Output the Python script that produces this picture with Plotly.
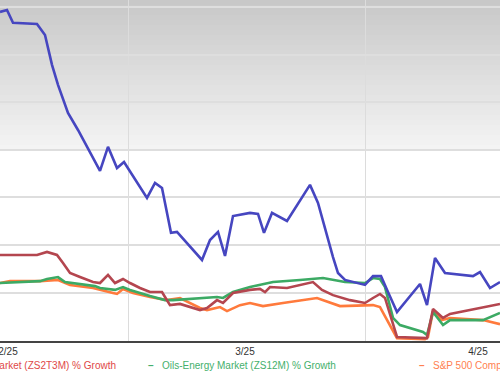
import plotly.graph_objects as go

# x: trading-time position (units), y: % growth
blue_x = [0, 0.7, 1.3, 3.7, 4.5, 5.2, 5.8, 6.8, 7.8, 10.0, 10.8, 11.7, 12.4, 14.7, 15.5, 16.2, 17.1, 17.7,
          20.2, 21.0, 21.8, 22.5, 23.3, 25.0, 25.8, 26.4, 27.2, 28.7, 31.0, 31.8, 33.3, 33.8, 34.5, 36.5,
          37.3, 38.1, 38.8, 39.7, 42.0, 42.7, 43.5, 44.5, 47.3, 48.0, 49.0, 50.0]
blue_y = [98.1, 98.9, 93.5, 93.0, 88.4, 75.8, 67.4, 55.6, 48.4, 31.2, 41.3, 32.4, 34.9, 19.8, 26.1, 24.0, 5.1, 5.5,
          -6.3, 2.1, 5.5, -4.6, 12.2, 13.5, 13.1, 5.1, 13.5, 10.1, 25.3, 17.7, -5.1, -11.8, -14.7, -16.8,
          -13.1, -13.1, -19.8, -28.2, -16.4, -25.3, -5.5, -11.8, -13.1, -11.4, -18.1, -15.6]

red_x = [0, 3.7, 4.7, 5.7, 6.3, 7.0, 8.0, 9.3, 10.0, 10.8, 11.5, 12.3, 13.0, 14.0, 15.0, 16.2, 16.5, 17.0,
         18.0, 19.0, 20.0, 20.7, 21.7, 22.3, 23.3, 25.0, 26.0, 26.5, 27.0, 28.7, 31.3, 32.2, 33.3, 35.0,
         36.5, 37.3, 38.0, 38.5, 39.3, 39.7, 42.7, 43.3, 44.3, 45.0, 50.0]
red_y = [-4.2, -4.2, -2.9, -4.2, -7.6, -11.8, -13.5, -15.6, -16.0, -12.6, -16.0, -14.3, -16.0, -18.1, -19.8,
         -19.8, -21.9, -25.3, -24.8, -26.1, -27.4, -26.5, -23.2, -24.4, -20.2, -18.9, -18.5, -19.8, -17.7,
         -18.1, -15.6, -18.9, -21.1, -23.2, -24.4, -22.3, -20.6, -22.3, -33.7, -38.7, -39.2, -26.9, -30.7,
         -29.0, -24.8]

green_x = [0, 4.0, 4.7, 5.8, 6.5, 8.0, 9.5, 10.0, 11.5, 12.3, 13.0, 15.0, 16.5, 17.3, 19.0, 21.0, 21.7, 22.3,
           23.3, 25.0, 27.3, 30.0, 32.3, 34.5, 36.5, 37.3, 38.0, 38.5, 39.3, 40.0, 42.3, 42.7, 43.3, 44.3,
           45.0, 48.3, 50.0]
green_y = [-16.0, -15.2, -14.3, -13.5, -15.6, -16.4, -17.3, -18.1, -18.9, -17.7, -18.9, -21.5, -23.2, -23.2,
           -22.7, -22.3, -21.9, -22.3, -19.8, -17.7, -15.6, -14.7, -13.9, -15.6, -16.0, -13.9, -14.3, -17.7,
           -30.7, -33.7, -36.6, -37.9, -28.2, -33.7, -31.6, -31.6, -28.6]

orange_x = [0, 1.0, 4.0, 5.8, 7.0, 9.3, 11.3, 11.7, 12.3, 13.3, 15.0, 16.7, 18.0, 19.0, 20.0, 20.7, 22.0, 22.7,
            24.0, 25.0, 26.3, 28.3, 31.7, 34.0, 37.3, 38.0, 39.0, 39.7, 42.5, 42.8, 43.3, 44.2, 45.0, 48.3, 50.0]
orange_y = [-16.0, -15.2, -15.2, -14.7, -16.8, -18.1, -20.2, -20.6, -18.5, -20.2, -21.9, -23.2, -22.3, -24.4,
            -26.5, -27.4, -26.1, -27.8, -25.3, -24.4, -25.7, -24.4, -22.3, -25.7, -25.3, -26.1, -33.7, -39.2,
            -39.6, -38.7, -27.8, -31.6, -30.7, -31.6, -33.3]

tick_pos = [0.8, 24.5, 47.8]
tick_text = ["2/25", "3/25", "4/25"]
month_bounds = [12.8, 36.5]

names = ["Price % Growth", "Market (ZS2T3M) % Growth", "Oils-Energy Market (ZS12M) % Growth",
         "S&P 500 Composite % Growth"]
colors = ["#4646c0", "#b4464f", "#3caa64", "#ff7a3c"]
text_colors = ["#4646c0", "#e04848", "#45b06c", "#ff8050"]

fig = go.Figure()
series = [(blue_x, blue_y), (red_x, red_y), (green_x, green_y), (orange_x, orange_y)]
# draw order: lower lines first, blue last
for idx in [3, 2, 1, 0]:
    xs, ys = series[idx]
    fig.add_trace(go.Scatter(x=xs, y=ys, mode="lines", name=names[idx],
                             line=dict(color=colors[idx], width=2.6), showlegend=False,
                             hoverinfo="skip"))

# gradient background at top of plot area
shapes = []
H = 341.0
nb = 30
for i in range(nb):
    p0 = i * 5.0
    p1 = p0 + 5.0
    g = int(200 + 45 * (p0 + 2.5) / 150.0)
    shapes.append(dict(type="rect", xref="paper", yref="paper", x0=0, x1=1,
                       y0=(H - p1) / H, y1=(H - p0) / H, line=dict(width=0),
                       fillcolor=f"rgb({g},{g},{g})", layer="below"))

font_family = "Arial, Liberation Sans, sans-serif"
ann = []
ly = -24 / 341
ann.append(dict(xref="paper", yref="paper", x=118 / 500, y=ly, xanchor="right", yanchor="middle",
                text=names[1], showarrow=False, font=dict(size=10, color=text_colors[1], family=font_family)))
ann.append(dict(xref="paper", yref="paper", x=151 / 500, y=ly, xanchor="center", yanchor="middle",
                text="<b>–</b>", showarrow=False, font=dict(size=10, color=text_colors[2], family=font_family)))
ann.append(dict(xref="paper", yref="paper", x=160 / 500, y=ly, xanchor="left", yanchor="middle",
                text=names[2], showarrow=False, font=dict(size=10, color=text_colors[2], family=font_family)))
ann.append(dict(xref="paper", yref="paper", x=422 / 500, y=ly, xanchor="center", yanchor="middle",
                text="<b>–</b>", showarrow=False, font=dict(size=10, color=text_colors[3], family=font_family)))
ann.append(dict(xref="paper", yref="paper", x=431 / 500, y=ly, xanchor="left", yanchor="middle",
                text=names[3], showarrow=False, font=dict(size=10, color=text_colors[3], family=font_family)))

fig.update_layout(
    width=500, height=383,
    margin=dict(l=0, r=0, t=0, b=42, autoexpand=False),
    paper_bgcolor="white", plot_bgcolor="white",
    shapes=shapes, annotations=ann,
    font=dict(family=font_family, size=10, color="#333333"),
    xaxis=dict(range=[0, 50], tickmode="array", tickvals=tick_pos, ticktext=tick_text,
               showgrid=False, zeroline=False, showline=True, linecolor="#444444", linewidth=2,
               ticks="", automargin=False, tickfont=dict(size=10, color="#333333"),
               ticklabeloverflow="allow",
               minor=dict(tickmode="array", tickvals=month_bounds, showgrid=True,
                          gridcolor="#dcdcdc", gridwidth=1.2, ticks="")),
    yaxis=dict(range=[-40.4, 103.1], tick0=0, dtick=20, showgrid=True, gridcolor="#dedede",
               gridwidth=1.5, zeroline=False, showticklabels=False, showline=False, ticks="",
               automargin=False),
)

fig.write_html("out.html", config={"displayModeBar": False},
               post_script="document.body.style.margin='0';document.body.style.overflow='hidden';")
